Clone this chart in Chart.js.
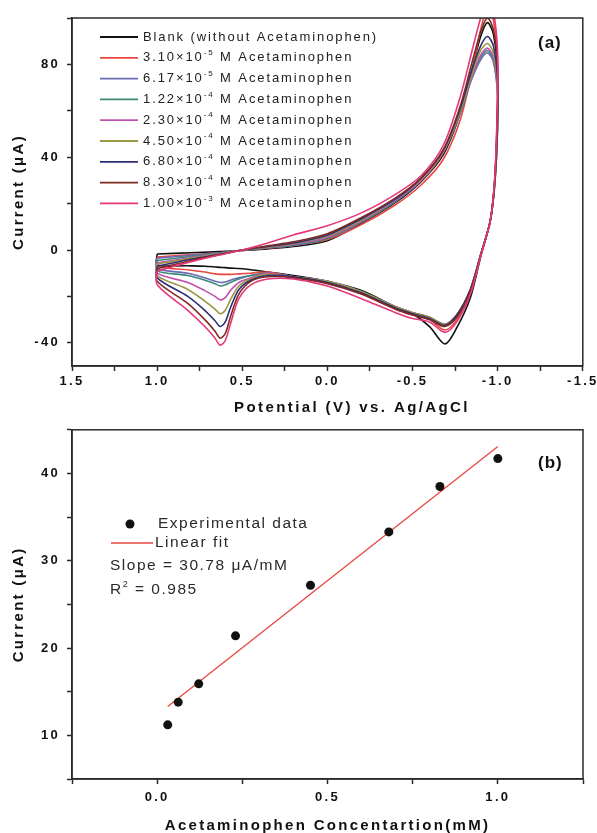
<!DOCTYPE html>
<html>
<head>
<meta charset="utf-8">
<script src="https://cdn.jsdelivr.net/npm/chart.js@4.4.1/dist/chart.umd.min.js"></script>
<style>
  html, body { margin: 0; padding: 0; background: #fff; }
  canvas { display: block; }
</style>
</head>
<body>
<canvas id="cvChart" width="597" height="415"></canvas>
<canvas id="calChart" width="597" height="418"></canvas>
<script>
// ── Panel (a): cyclic voltammograms ───────────────────────────
// potential path of one scan: upper branch, turn, lower branch, back to start
const potential = [
  1.0, 0.8, 0.6, 0.5, 0.35, 0.2, 0.0, -0.2, -0.4, -0.55, -0.68, -0.78, -0.85, -0.9, -0.94,
  -0.975, -1.0, -0.995, -0.98, -0.955, -0.9, -0.84, -0.76,
  -0.69, -0.6, -0.5, -0.4, -0.2, 0.0, 0.2, 0.35, 0.45, 0.52, 0.57, 0.6, 0.63, 0.66, 0.72, 0.82, 1.0,
  1.0
];

const iBlank = [
  -1.7, -1.2, -0.6, -0.2, 0.5, 1.5, 4, 11.5, 20.5, 29.5, 41, 59, 78, 92, 98,
  93, 76, 49, 27, 12, -3, -20.5, -33.5,
  -40.5, -33, -27.5, -24.5, -17.5, -13.5, -11, -9.5, -8.5, -8, -7.8, -7.6, -7.5, -7.3, -7, -6.8, -6.5,
  -1.7
];
const i310e5 = [
  -3, -2, -1, -0.2, 0.8, 2, 4.5, 11, 19.5, 28, 39, 56, 77, 95, 104,
  99, 81, 52, 27, 12, -2.5, -18.5, -30,
  -34.5, -30, -28, -25.5, -19, -14, -11.5, -9.5, -10, -10.3, -10.5, -10.5, -10.5, -10.3, -9.5, -8.5, -7,
  -3
];
const i617e5 = [
  -3.5, -2.3, -1, -0.1, 1, 2, 5, 12, 21, 30, 42, 59, 74, 82, 85,
  81, 66, 43, 26, 12, -2, -17, -28,
  -32, -29, -27, -24.5, -18, -13.5, -11.5, -10, -11, -12, -13, -13.8, -14, -13.5, -12, -10, -8,
  -3.5
];
const i122e4 = [
  -4.5, -2.8, -1.1, 0, 1, 2.2, 5, 12, 21, 30, 42, 59, 75, 83, 86,
  82, 67, 43, 26, 12, -2, -17, -28,
  -32, -29, -27, -24.5, -18, -13.5, -11.5, -10, -11, -12.5, -14, -15, -15.5, -14.5, -13, -11, -9,
  -4.5
];
const i230e4 = [
  -5.5, -3.3, -1.2, 0, 1.2, 2.5, 5.5, 12.5, 21.5, 30, 42, 60, 75, 84, 87,
  83, 68, 44, 26, 12, -2, -17, -28,
  -32, -29, -27, -24.5, -18, -13.5, -11.5, -10, -12, -14, -17.5, -20.5, -21.5, -20, -17.5, -14, -10,
  -5.5
];
const i450e4 = [
  -6, -3.6, -1.3, 0, 1.3, 2.8, 6, 13, 22, 30.5, 42.5, 60, 76, 86, 89,
  85, 69, 45, 26, 12, -2, -17, -28,
  -32, -29, -27, -24.5, -18, -13.5, -11.5, -10.5, -12.5, -15.5, -21.5, -26, -27.5, -25.5, -22, -17, -11,
  -6
];
const i680e4 = [
  -7, -4, -1.4, 0, 1.5, 3, 6.5, 13.5, 22, 31, 43, 61, 78, 88, 92,
  88, 72, 46, 27, 12, -2, -17, -28,
  -32.5, -29.5, -27.5, -25, -18.5, -14, -11.5, -11, -13, -17, -25, -31, -33, -30.5, -26, -20, -12,
  -7
];
const i830e4 = [
  -8, -4.5, -1.5, 0, 1.8, 3.5, 7, 14, 22.5, 31, 43, 62, 81, 94, 100,
  95, 78, 50, 27, 12, -2.5, -17.5, -29,
  -33, -30, -28, -25.5, -19, -14.5, -12, -11.5, -13.5, -19, -29, -36, -38, -35, -30, -23, -13.5,
  -8
];
const i100e3 = [
  -9, -5, -1.6, 0, 3, 6.5, 10.5, 16, 24, 32, 45, 66, 86, 100, 108,
  103, 84, 54, 28, 12, -2.5, -19, -31,
  -35.5, -31, -29.5, -27, -21, -15.5, -12.5, -12.5, -15, -21, -32, -39, -41, -38, -33, -26, -15,
  -9
];

const cvSeries = [iBlank, i310e5, i617e5, i122e4, i230e4, i450e4, i680e4, i830e4, i100e3];
const cvLabels = [
  'Blank (without Acetaminophen)',
  '3.10×10^-5 M Acetaminophen',
  '6.17×10^-5 M Acetaminophen',
  '1.22×10^-4 M Acetaminophen',
  '2.30×10^-4 M Acetaminophen',
  '4.50×10^-4 M Acetaminophen',
  '6.80×10^-4 M Acetaminophen',
  '8.30×10^-4 M Acetaminophen',
  '1.00×10^-3 M Acetaminophen'
];
const cvColors = ['#111111', '#e8463e', '#6a6ab6', '#3b8a76', '#c452b2', '#9a9842', '#2e2e76', '#7c2c22', '#e5377a'];

// ── Panel (b): calibration ────────────────────────────────────
const conc    = [0.031, 0.0617, 0.122, 0.230, 0.450, 0.680, 0.830, 1.000];
const current = [11.2, 13.8, 15.9, 21.4, 27.2, 33.3, 38.5, 41.7];
const fitX    = [0.031, 1.0];
const fitY    = [13.3, 43.1];

const FONT = 'Liberation Sans, Arial, Helvetica, sans-serif';
Chart.defaults.font.family = FONT;
Chart.defaults.color = '#111';

// ── Helpers ───────────────────────────────────────────────────
const toXY = (xs, ys) => xs.map((x, i) => ({ x: x, y: ys[i] }));

function drawRich(ctx, text, x, y, size, supSize) {
  // "a^b rest" -> a, superscript b, rest
  const m = text.match(/^(.*?)\^(\S+)(.*)$/);
  ctx.font = size + 'px ' + FONT;
  if (!m) { ctx.fillText(text, x, y); return; }
  ctx.fillText(m[1], x, y);
  x += ctx.measureText(m[1]).width;
  ctx.font = supSize + 'px ' + FONT;
  ctx.fillText(m[2], x, y - size * 0.38);
  x += ctx.measureText(m[2]).width;
  ctx.font = size + 'px ' + FONT;
  ctx.fillText(m[3], x, y);
}

function frame(ctx, a) {
  ctx.strokeStyle = '#2a2a2a';
  ctx.lineWidth = 1.5;
  ctx.strokeRect(a.left, a.top, a.right - a.left, a.bottom - a.top);
}

// letter spacing for axis text (Origin-style wide labels)
const spacing = {
  id: 'spacing',
  beforeDraw(chart) { chart.ctx.letterSpacing = '2.3px'; },
  afterDraw(chart) { chart.ctx.letterSpacing = '0px'; }
};

function axis(opts) {
  return Object.assign({
    type: 'linear',
    border: { display: true, color: '#2a2a2a', width: 1.5 },
    grid: { drawOnChartArea: false, drawTicks: true, tickLength: 5, tickColor: '#2a2a2a', tickWidth: 1.5 },
  }, opts);
}

const tickFont = { size: 13, weight: 'bold' };
const titleFont = { size: 15, weight: 'bold', lineHeight: 1 };

// ── Chart (a) ─────────────────────────────────────────────────
const cvDecor = {
  id: 'cvDecor',
  afterDraw(chart) {
    const ctx = chart.ctx;
    ctx.save();
    ctx.letterSpacing = '0px';
    frame(ctx, chart.chartArea);

    // legend
    ctx.textBaseline = 'middle';
    cvLabels.forEach((lab, i) => {
      const y = 37 + i * 20.8;
      ctx.strokeStyle = cvColors[i];
      ctx.lineWidth = 1.8;
      ctx.beginPath(); ctx.moveTo(100, y); ctx.lineTo(138, y); ctx.stroke();
      ctx.fillStyle = '#222';
      ctx.letterSpacing = '1.9px';
      drawRich(ctx, lab, 143, y, 13, 8);
    });

    // x axis title sits right of centre in the original
    ctx.fillStyle = '#111';
    ctx.textAlign = 'center';
    ctx.letterSpacing = '2.4px';
    ctx.font = 'bold 15px ' + FONT;
    ctx.fillText('Potential (V) vs. Ag/AgCl', 352, 408);

    ctx.textAlign = 'left';
    ctx.letterSpacing = '1px';
    ctx.font = 'bold 17px ' + FONT;
    ctx.fillText('(a)', 538, 43);
    ctx.restore();
  }
};

new Chart(document.getElementById('cvChart'), {
  type: 'scatter',
  data: {
    datasets: cvSeries.map((s, i) => ({
      label: cvLabels[i],
      data: toXY(potential, s),
      showLine: true,
      borderColor: cvColors[i],
      borderWidth: 1.6,
      pointRadius: 0,
      tension: 0.3,
      order: cvSeries.length - i
    }))
  },
  options: {
    responsive: false,
    animation: false,
    layout: { padding: { top: 18, right: 14, left: 0, bottom: 0 } },
    plugins: { legend: { display: false }, tooltip: { enabled: false } },
    scales: {
      x: axis({
        min: -1.5, max: 1.5, reverse: true,
        afterFit: s => { s.height = 49; },
        ticks: {
          stepSize: 0.25, autoSkip: false, maxRotation: 0, padding: 3,
          font: tickFont, color: '#111',
          callback: v => { const r = Math.round(v * 100); return r % 50 === 0 ? (r / 100).toFixed(1) : ''; }
        },
        title: { display: false }
      }),
      y: axis({
        min: -50, max: 100,
        afterFit: s => { s.width = 72; },
        ticks: {
          stepSize: 20, includeBounds: false, padding: 7,
          font: tickFont, color: '#111',
          callback: v => (Math.round(v) % 40 === 0 ? String(Math.round(v)) : '')
        },
        title: { display: true, text: 'Current (μA)', font: titleFont, padding: { top: 11, bottom: 0 }, color: '#111' }
      })
    }
  },
  plugins: [spacing, cvDecor]
});

// ── Chart (b) ─────────────────────────────────────────────────
const calDecor = {
  id: 'calDecor',
  afterDraw(chart) {
    const ctx = chart.ctx;
    ctx.save();
    ctx.letterSpacing = '0px';
    frame(ctx, chart.chartArea);

    ctx.textBaseline = 'middle';
    ctx.fillStyle = '#111';
    ctx.beginPath(); ctx.arc(130, 109, 4.5, 0, Math.PI * 2); ctx.fill();
    ctx.strokeStyle = '#e8463e'; ctx.lineWidth = 1.3;
    ctx.beginPath(); ctx.moveTo(111, 128); ctx.lineTo(153, 128); ctx.stroke();

    ctx.fillStyle = '#2a2a2a';
    ctx.letterSpacing = '1.5px';
    drawRich(ctx, 'Experimental data', 158, 109, 15.5, 9);
    drawRich(ctx, 'Linear fit', 155, 128, 15.5, 9);
    drawRich(ctx, 'Slope = 30.78 μA/mM', 110, 151, 15.5, 9);
    drawRich(ctx, 'R^2 = 0.985', 110, 175, 15.5, 9);

    ctx.fillStyle = '#111';
    ctx.letterSpacing = '1px';
    ctx.font = 'bold 17px ' + FONT;
    ctx.fillText('(b)', 538, 48);
    ctx.restore();
  }
};

new Chart(document.getElementById('calChart'), {
  type: 'scatter',
  data: {
    datasets: [
      {
        label: 'Experimental data',
        data: toXY(conc, current),
        pointRadius: 4.5,
        pointBackgroundColor: '#111',
        pointBorderWidth: 0
      },
      {
        label: 'Linear fit',
        data: toXY(fitX, fitY),
        showLine: true,
        pointRadius: 0,
        borderColor: '#e8463e',
        borderWidth: 1.3
      }
    ]
  },
  options: {
    responsive: false,
    animation: false,
    layout: { padding: { top: 11, right: 14, left: 0, bottom: 0 } },
    plugins: { legend: { display: false }, tooltip: { enabled: false } },
    scales: {
      x: axis({
        min: -0.25, max: 1.25,
        afterFit: s => { s.height = 54; },
        ticks: {
          stepSize: 0.25, autoSkip: false, maxRotation: 0, padding: 6,
          font: tickFont, color: '#111',
          callback: v => { const r = Math.round(v * 100); return r % 50 === 0 ? (r / 100).toFixed(1) : ''; }
        },
        title: { display: true, text: 'Acetaminophen Concentartion(mM)', font: titleFont, padding: { top: 0, bottom: 0 }, color: '#111' }
      }),
      y: axis({
        min: 5, max: 45,
        afterFit: s => { s.width = 72; },
        ticks: {
          stepSize: 5, includeBounds: false, padding: 7,
          font: tickFont, color: '#111',
          callback: v => (Math.round(v) % 10 === 0 ? String(Math.round(v)) : '')
        },
        title: { display: true, text: 'Current (μA)', font: titleFont, padding: { top: 11, bottom: 0 }, color: '#111' }
      })
    }
  },
  plugins: [spacing, calDecor]
});
</script>
</body>
</html>
